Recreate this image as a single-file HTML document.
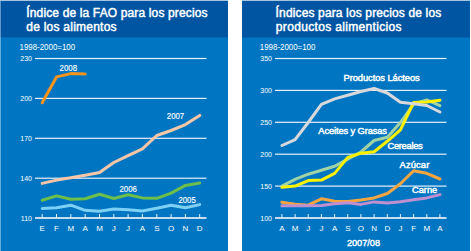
<!DOCTYPE html>
<html><head><meta charset="utf-8"><style>
html,body{margin:0;padding:0;width:471px;height:251px;overflow:hidden;background:#fff}
svg{display:block}
text{font-family:"Liberation Sans",sans-serif}
</style></head><body>
<svg width="471" height="251" viewBox="0 0 471 251">
<rect x="0" y="0" width="471" height="251" fill="#fff"/>
<rect x="1" y="37" width="227" height="214" fill="#0076C2"/>
<rect x="1" y="1" width="227" height="36.5" fill="#0055A3"/>
<rect x="0" y="1" width="1" height="36" fill="#0055A3" fill-opacity="0.62"/>
<rect x="0" y="37" width="1" height="214" fill="#0076C2" fill-opacity="0.62"/>
<rect x="0" y="0" width="228" height="1" fill="#0055A3" fill-opacity="0.35"/>
<rect x="242" y="0" width="228" height="1" fill="#0055A3" fill-opacity="0.35"/>
<rect x="242" y="37" width="228" height="214" fill="#0076C2"/>
<rect x="242" y="1" width="228" height="36.5" fill="#0055A3"/>
<text x="26.3" y="16.7" fill="#fff" font-size="12" stroke="#fff" stroke-width="0.45" stroke-linejoin="round" textLength="181.2" lengthAdjust="spacing">Índice de la FAO para los precios</text>
<text x="26.3" y="30.8" fill="#fff" font-size="12" stroke="#fff" stroke-width="0.45" stroke-linejoin="round" textLength="90.3" lengthAdjust="spacing">de los alimentos</text>
<text x="275.6" y="16.7" fill="#fff" font-size="12" stroke="#fff" stroke-width="0.45" stroke-linejoin="round" textLength="165.6" lengthAdjust="spacing">Índices para los precios de los</text>
<text x="275.8" y="30.8" fill="#fff" font-size="12" stroke="#fff" stroke-width="0.45" stroke-linejoin="round" textLength="125.7" lengthAdjust="spacing">productos alimenticios</text>
<text x="19.5" y="50" fill="#fff" font-size="8.6" textLength="55.6" lengthAdjust="spacingAndGlyphs">1998-2000=100</text>
<text x="259.8" y="50" fill="#fff" font-size="8.6" textLength="55.6" lengthAdjust="spacingAndGlyphs">1998-2000=100</text>
<rect x="35" y="57.90" width="171.5" height="1.2" fill="#E6F0F8"/>
<text x="32" y="61.0" text-anchor="end" fill="#fff" font-size="7" style="font-family:'Liberation Sans',sans-serif">230</text>
<rect x="35" y="97.80" width="171.5" height="1.2" fill="#E6F0F8"/>
<text x="32" y="100.9" text-anchor="end" fill="#fff" font-size="7" style="font-family:'Liberation Sans',sans-serif">200</text>
<rect x="35" y="137.70" width="171.5" height="1.2" fill="#E6F0F8"/>
<text x="32" y="140.8" text-anchor="end" fill="#fff" font-size="7" style="font-family:'Liberation Sans',sans-serif">170</text>
<rect x="35" y="177.60" width="171.5" height="1.2" fill="#E6F0F8"/>
<text x="32" y="180.7" text-anchor="end" fill="#fff" font-size="7" style="font-family:'Liberation Sans',sans-serif">140</text>
<rect x="35" y="217" width="171.5" height="2" fill="#C8DCEF"/>
<text x="32" y="220.5" text-anchor="end" fill="#fff" font-size="7" style="font-family:'Liberation Sans',sans-serif">110</text>
<rect x="41.7" y="214" width="1" height="4" fill="#E6F0F8"/>
<text x="42.2" y="230.5" text-anchor="middle" fill="#fff" font-size="8" style="font-family:'Liberation Sans',sans-serif">E</text>
<rect x="56.0" y="214" width="1" height="4" fill="#E6F0F8"/>
<text x="56.5" y="230.5" text-anchor="middle" fill="#fff" font-size="8" style="font-family:'Liberation Sans',sans-serif">F</text>
<rect x="70.3" y="214" width="1" height="4" fill="#E6F0F8"/>
<text x="70.8" y="230.5" text-anchor="middle" fill="#fff" font-size="8" style="font-family:'Liberation Sans',sans-serif">M</text>
<rect x="84.7" y="214" width="1" height="4" fill="#E6F0F8"/>
<text x="85.2" y="230.5" text-anchor="middle" fill="#fff" font-size="8" style="font-family:'Liberation Sans',sans-serif">A</text>
<rect x="99.0" y="214" width="1" height="4" fill="#E6F0F8"/>
<text x="99.5" y="230.5" text-anchor="middle" fill="#fff" font-size="8" style="font-family:'Liberation Sans',sans-serif">M</text>
<rect x="113.3" y="214" width="1" height="4" fill="#E6F0F8"/>
<text x="113.8" y="230.5" text-anchor="middle" fill="#fff" font-size="8" style="font-family:'Liberation Sans',sans-serif">J</text>
<rect x="127.6" y="214" width="1" height="4" fill="#E6F0F8"/>
<text x="128.1" y="230.5" text-anchor="middle" fill="#fff" font-size="8" style="font-family:'Liberation Sans',sans-serif">J</text>
<rect x="141.9" y="214" width="1" height="4" fill="#E6F0F8"/>
<text x="142.4" y="230.5" text-anchor="middle" fill="#fff" font-size="8" style="font-family:'Liberation Sans',sans-serif">A</text>
<rect x="156.3" y="214" width="1" height="4" fill="#E6F0F8"/>
<text x="156.8" y="230.5" text-anchor="middle" fill="#fff" font-size="8" style="font-family:'Liberation Sans',sans-serif">S</text>
<rect x="170.6" y="214" width="1" height="4" fill="#E6F0F8"/>
<text x="171.1" y="230.5" text-anchor="middle" fill="#fff" font-size="8" style="font-family:'Liberation Sans',sans-serif">O</text>
<rect x="184.9" y="214" width="1" height="4" fill="#E6F0F8"/>
<text x="185.4" y="230.5" text-anchor="middle" fill="#fff" font-size="8" style="font-family:'Liberation Sans',sans-serif">N</text>
<rect x="199.2" y="214" width="1" height="4" fill="#E6F0F8"/>
<text x="199.7" y="230.5" text-anchor="middle" fill="#fff" font-size="8" style="font-family:'Liberation Sans',sans-serif">D</text>
<polyline points="42.2,102.8 56.5,76.9 70.8,73.6 85.2,73.9" fill="none" stroke="#F7941D" stroke-width="3" stroke-linejoin="round" stroke-linecap="round"/>
<polyline points="42.2,208.5 56.5,207.8 70.8,205.2 85.2,210.3 99.5,211.3 113.8,209.1 128.1,209.8 142.4,211.0 156.8,208.3 171.1,205.2 185.4,207.8 199.7,204.6" fill="none" stroke="#7DD0F5" stroke-width="3" stroke-linejoin="round" stroke-linecap="round"/>
<polyline points="42.2,200.2 56.5,195.9 70.8,199.2 85.2,198.7 99.5,194.2 113.8,198.5 128.1,194.8 142.4,197.9 156.8,198.3 171.1,193.1 185.4,185.4 199.7,183.0" fill="none" stroke="#6DBE4B" stroke-width="3" stroke-linejoin="round" stroke-linecap="round"/>
<polyline points="42.2,183.4 56.5,180.1 70.8,177.8 85.2,175.2 99.5,172.5 113.8,162.5 128.1,155.6 142.4,148.9 156.8,135.5 171.1,130.5 185.4,124.6 199.7,115.4" fill="none" stroke="#F9C6A8" stroke-width="3" stroke-linejoin="round" stroke-linecap="round"/>
<text x="59.6" y="71" fill="#fff" font-size="8.6" stroke="#fff" stroke-width="0.15" stroke-linejoin="round" textLength="17.4" lengthAdjust="spacingAndGlyphs">2008</text>
<text x="166.8" y="119.1" fill="#fff" font-size="8.6" stroke="#fff" stroke-width="0.15" stroke-linejoin="round" textLength="17.4" lengthAdjust="spacingAndGlyphs">2007</text>
<text x="119.5" y="191.5" fill="#fff" font-size="8.6" stroke="#fff" stroke-width="0.15" stroke-linejoin="round" textLength="17.4" lengthAdjust="spacingAndGlyphs">2006</text>
<text x="178.4" y="203.4" fill="#fff" font-size="8.6" stroke="#fff" stroke-width="0.15" stroke-linejoin="round" textLength="17.4" lengthAdjust="spacingAndGlyphs">2005</text>
<rect x="275" y="57.90" width="171.5" height="1.2" fill="#E6F0F8"/>
<text x="272" y="61.0" text-anchor="end" fill="#fff" font-size="7" style="font-family:'Liberation Sans',sans-serif">350</text>
<rect x="275" y="89.80" width="171.5" height="1.2" fill="#E6F0F8"/>
<text x="272" y="92.9" text-anchor="end" fill="#fff" font-size="7" style="font-family:'Liberation Sans',sans-serif">300</text>
<rect x="275" y="121.70" width="171.5" height="1.2" fill="#E6F0F8"/>
<text x="272" y="124.8" text-anchor="end" fill="#fff" font-size="7" style="font-family:'Liberation Sans',sans-serif">250</text>
<rect x="275" y="153.60" width="171.5" height="1.2" fill="#E6F0F8"/>
<text x="272" y="156.7" text-anchor="end" fill="#fff" font-size="7" style="font-family:'Liberation Sans',sans-serif">200</text>
<rect x="275" y="185.50" width="171.5" height="1.2" fill="#E6F0F8"/>
<text x="272" y="188.6" text-anchor="end" fill="#fff" font-size="7" style="font-family:'Liberation Sans',sans-serif">150</text>
<rect x="275" y="217" width="171.5" height="2" fill="#C8DCEF"/>
<text x="272" y="220.5" text-anchor="end" fill="#fff" font-size="7" style="font-family:'Liberation Sans',sans-serif">100</text>
<rect x="281.4" y="214" width="1" height="4" fill="#E6F0F8"/>
<text x="281.9" y="230.5" text-anchor="middle" fill="#fff" font-size="8" style="font-family:'Liberation Sans',sans-serif">A</text>
<rect x="294.6" y="214" width="1" height="4" fill="#E6F0F8"/>
<text x="295.1" y="230.5" text-anchor="middle" fill="#fff" font-size="8" style="font-family:'Liberation Sans',sans-serif">M</text>
<rect x="307.7" y="214" width="1" height="4" fill="#E6F0F8"/>
<text x="308.2" y="230.5" text-anchor="middle" fill="#fff" font-size="8" style="font-family:'Liberation Sans',sans-serif">J</text>
<rect x="320.9" y="214" width="1" height="4" fill="#E6F0F8"/>
<text x="321.4" y="230.5" text-anchor="middle" fill="#fff" font-size="8" style="font-family:'Liberation Sans',sans-serif">J</text>
<rect x="334.1" y="214" width="1" height="4" fill="#E6F0F8"/>
<text x="334.6" y="230.5" text-anchor="middle" fill="#fff" font-size="8" style="font-family:'Liberation Sans',sans-serif">A</text>
<rect x="347.2" y="214" width="1" height="4" fill="#E6F0F8"/>
<text x="347.8" y="230.5" text-anchor="middle" fill="#fff" font-size="8" style="font-family:'Liberation Sans',sans-serif">S</text>
<rect x="360.4" y="214" width="1" height="4" fill="#E6F0F8"/>
<text x="360.9" y="230.5" text-anchor="middle" fill="#fff" font-size="8" style="font-family:'Liberation Sans',sans-serif">O</text>
<rect x="373.6" y="214" width="1" height="4" fill="#E6F0F8"/>
<text x="374.1" y="230.5" text-anchor="middle" fill="#fff" font-size="8" style="font-family:'Liberation Sans',sans-serif">N</text>
<rect x="386.8" y="214" width="1" height="4" fill="#E6F0F8"/>
<text x="387.3" y="230.5" text-anchor="middle" fill="#fff" font-size="8" style="font-family:'Liberation Sans',sans-serif">D</text>
<rect x="399.9" y="214" width="1" height="4" fill="#E6F0F8"/>
<text x="400.4" y="230.5" text-anchor="middle" fill="#fff" font-size="8" style="font-family:'Liberation Sans',sans-serif">J</text>
<rect x="413.1" y="214" width="1" height="4" fill="#E6F0F8"/>
<text x="413.6" y="230.5" text-anchor="middle" fill="#fff" font-size="8" style="font-family:'Liberation Sans',sans-serif">F</text>
<rect x="426.3" y="214" width="1" height="4" fill="#E6F0F8"/>
<text x="426.8" y="230.5" text-anchor="middle" fill="#fff" font-size="8" style="font-family:'Liberation Sans',sans-serif">M</text>
<rect x="439.4" y="214" width="1" height="4" fill="#E6F0F8"/>
<text x="439.9" y="230.5" text-anchor="middle" fill="#fff" font-size="8" style="font-family:'Liberation Sans',sans-serif">A</text>
<text x="346.9" y="245.6" fill="#fff" font-size="9.2" stroke="#fff" stroke-width="0.4" stroke-linejoin="round" textLength="33.2" lengthAdjust="spacingAndGlyphs">2007/08</text>
<polyline points="281.9,202.2 295.1,204.2 308.2,205.2 321.4,198.8 334.6,201.3 347.8,201.5 360.9,199.9 374.1,197.9 387.3,193.5 400.4,183.7 413.6,170.7 426.8,173.3 439.9,179.0" fill="none" stroke="#F7A540" stroke-width="3" stroke-linejoin="round" stroke-linecap="round"/>
<polyline points="281.9,205.7 295.1,205.7 308.2,205.7 321.4,205.4 334.6,203.8 347.8,202.8 360.9,204.4 374.1,201.9 387.3,202.9 400.4,201.8 413.6,199.7 426.8,197.9 439.9,194.6" fill="none" stroke="#C08FD0" stroke-width="3" stroke-linejoin="round" stroke-linecap="round"/>
<polyline points="281.9,186.1 295.1,179.4 308.2,174.2 321.4,170.3 334.6,166.3 347.8,159.1 360.9,152.0 374.1,140.5 387.3,137.2 400.4,122.5 413.6,104.0 426.8,99.9 439.9,105.7" fill="none" stroke="#9FD3A6" stroke-width="3" stroke-linejoin="round" stroke-linecap="round"/>
<polyline points="281.9,187.3 295.1,186.1 308.2,180.6 321.4,180.1 334.6,173.4 347.8,157.4 360.9,153.2 374.1,151.7 387.3,141.3 400.4,129.9 413.6,102.5 426.8,102.0 439.9,100.2" fill="none" stroke="#FFF200" stroke-width="3" stroke-linejoin="round" stroke-linecap="round"/>
<polyline points="281.9,145.5 295.1,139.7 308.2,122.5 321.4,104.4 334.6,98.9 347.8,95.2 360.9,91.5 374.1,88.5 387.3,93.0 400.4,102.3 413.6,103.8 426.8,105.5 439.9,112.0" fill="none" stroke="#D9D9DC" stroke-width="3" stroke-linejoin="round" stroke-linecap="round"/>
<text x="343.5" y="81.4" fill="#fff" font-size="9.3" stroke="#fff" stroke-width="0.45" stroke-linejoin="round" textLength="76.2" lengthAdjust="spacing">Productos Lácteos</text>
<text x="318.3" y="133.7" fill="#fff" font-size="9.3" stroke="#fff" stroke-width="0.45" stroke-linejoin="round" textLength="68.7" lengthAdjust="spacing">Aceites y Grasas</text>
<text x="387.5" y="149.1" fill="#fff" font-size="9.3" stroke="#fff" stroke-width="0.45" stroke-linejoin="round" textLength="35.2" lengthAdjust="spacing">Cereales</text>
<text x="399.6" y="167.9" fill="#fff" font-size="9.3" stroke="#fff" stroke-width="0.45" stroke-linejoin="round" textLength="29.7" lengthAdjust="spacing">Azúcar</text>
<text x="412.1" y="193.4" fill="#fff" font-size="9.3" stroke="#fff" stroke-width="0.45" stroke-linejoin="round" textLength="25.1" lengthAdjust="spacing">Carne</text>
</svg></body></html>
